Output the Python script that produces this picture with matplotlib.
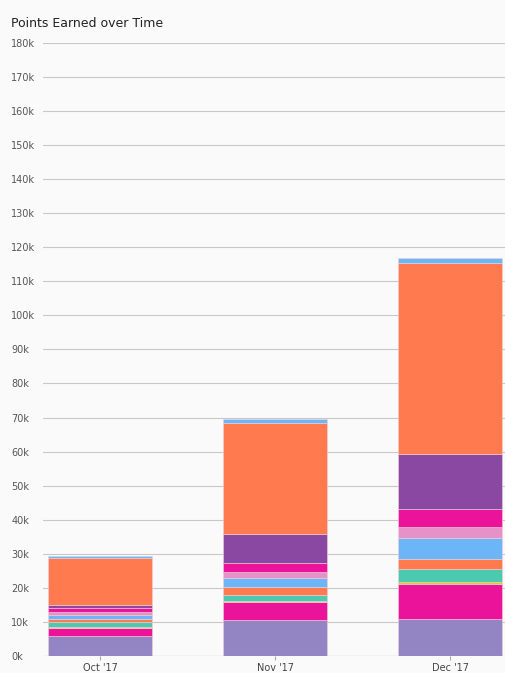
import numpy as np
import matplotlib.pyplot as plt

months = ["Oct '17", "Nov '17", "Dec '17"]

# stacked series, bottom to top (points, in k)
s1 = [6.0, 10.7, 10.8]    # lavender
s2 = [2.2, 5.0, 10.2]     # magenta
s3 = [0.2, 0.3, 0.7]      # yellow
s4 = [1.6, 1.9, 3.8]      # teal
s5 = [0.8, 2.3, 3.0]      # orange
s6 = [1.2, 2.8, 6.0]      # blue
s7 = [0.9, 1.6, 3.3]      # pink
s8 = [1.1, 2.6, 5.3]      # magenta
s9 = [1.0, 8.7, 16.1]     # purple
s10 = [13.8, 32.6, 56.3]  # orange
s11 = [0.5, 1.0, 1.4]     # blue

series = [s1, s2, s3, s4, s5, s6, s7, s8, s9, s10, s11]
colors = ['#9384c3', '#ec139b', '#e8c51a', '#4ccab0', '#ff7a4e', '#6cb5f6',
          '#e592c8', '#ec139b', '#8a48a2', '#ff7a4e', '#6cb5f6']

fig = plt.figure(figsize=(5.06, 6.73), dpi=100)
fig.patch.set_facecolor('#fafafa')
ax = fig.add_axes([0.085, 0.0253, 0.915, 0.911])
ax.set_facecolor('#fafafa')

x = np.arange(len(months))
bottom = np.zeros(len(months))
for vals, c in zip(series, colors):
    v = np.array(vals) * 1000
    ax.bar(x, v, bottom=bottom, width=0.59, color=c, edgecolor='#f0d0d8', linewidth=0.4)
    bottom += v

ax.set_xlim(-0.326, 2.32)
ax.set_ylim(0, 180000)
yt = np.arange(0, 180001, 10000)
ax.set_yticks(yt)
ax.set_yticklabels([f"{int(t/1000)}k" for t in yt], fontsize=7, color='#555555', ha='left')
ax.tick_params(axis='y', length=0, pad=23)
ax.set_xticks(x)
ax.set_xticklabels(months, fontsize=7, color='#444444')
ax.tick_params(axis='x', length=3, color='#aaaaaa', pad=2)
ax.grid(axis='y', color='#c8c8c8', linewidth=0.8)
ax.set_axisbelow(True)
for sp in ax.spines.values():
    sp.set_visible(False)
ax.axhline(0, color='#aaaaaa', linewidth=0.8)

fig.text(0.022, 0.965, 'Points Earned over Time', fontsize=9, color='#222222', va='center')

fig.savefig('out.png', dpi=100, facecolor=fig.get_facecolor())
